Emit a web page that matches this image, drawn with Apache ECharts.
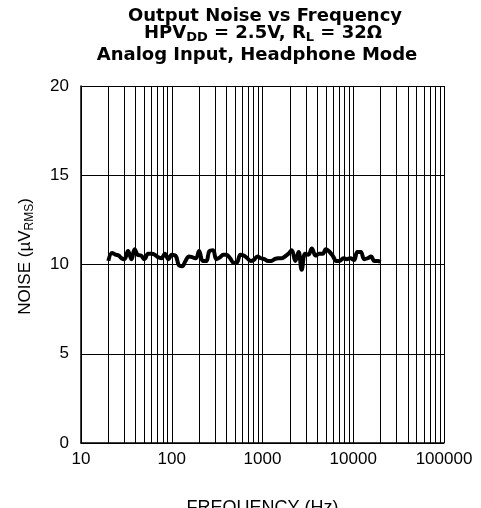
<!DOCTYPE html>
<html>
<head>
<meta charset="utf-8">
<script src="https://cdn.jsdelivr.net/npm/echarts@6/dist/echarts.min.js"></script>
<style>
  html, body { margin: 0; padding: 0; background: #fff; }
  #chart { width: 481px; height: 508px; }
</style>
</head>
<body>
<div id="chart"></div>
<script>
// frequencies (Hz) and output noise (uV RMS)
const freqs = [20, 22, 24, 26, 28, 30, 33, 36, 39, 42, 46, 50, 55, 60, 65, 71, 77, 84, 92, 100,
  110, 120, 130, 142, 155, 170, 185, 200, 220, 240, 260, 285, 310, 340, 370, 400, 440, 480, 520, 570,
  620, 680, 740, 800, 880, 960, 1050, 1150, 1250, 1360, 1480, 1620, 1770, 1930, 2100, 2300, 2500, 2700,
  2950, 3200, 3500, 3850, 4200, 4600, 5000, 5500, 6000, 6500, 7100, 7800, 8500, 9300, 10200, 11100,
  12100, 13200, 14400, 15700, 17100, 18600, 20000];
const noise = [10.2, 10.65, 10.55, 10.5, 10.35, 10.3, 10.75, 10.3, 10.85, 10.55, 10.5, 10.3, 10.6, 10.6, 10.55, 10.4, 10.35, 10.6, 10.3, 10.55,
  10.5, 9.95, 9.9, 10.2, 10.45, 10.4, 10.35, 10.75, 10.2, 10.2, 10.75, 10.8, 10.3, 10.4, 10.55, 10.55, 10.35, 10.1, 10.1, 10.55,
  10.5, 10.35, 10.2, 10.25, 10.45, 10.35, 10.3, 10.2, 10.2, 10.3, 10.35, 10.35, 10.45, 10.6, 10.8, 10.2, 10.7, 9.7,
  10.6, 10.55, 10.9, 10.5, 10.6, 10.6, 10.85, 10.7, 10.45, 10.2, 10.2, 10.35, 10.3, 10.35, 10.25, 10.7,
  10.7, 10.3, 10.35, 10.45, 10.2, 10.2, 10.15];

// vertical grid lines between decades
const minorFreqs = [20, 30, 40, 50, 60, 70, 80, 90, 200, 300, 400, 500, 600, 700, 800, 900,
  2000, 3000, 4000, 5000, 6000, 7000, 8000, 9000, 20000, 30000, 40000, 50000, 60000, 70000, 80000, 90000];

const chart = echarts.init(document.getElementById('chart'), null, { renderer: 'canvas' });

const font = 'Liberation Sans, Arial, sans-serif';
const titleFont = 'DejaVu Sans, sans-serif';
const titleStyle = { fontFamily: titleFont, fontWeight: 'bold', fontSize: 18, lineHeight: 18, color: '#000' };

chart.setOption({
  animation: false,
  backgroundColor: '#fff',
  title: [
    { text: 'Output Noise vs Frequency', left: 265, textAlign: 'center', top: 7, textStyle: titleStyle, padding: 0 },
    {
      text: '{a|HPV}{s|DD}{a| = 2.5V, R}{s|L}{a| = 32Ω}',
      left: 263, textAlign: 'center', top: 24, padding: 0,
      textStyle: {
        rich: {
          a: titleStyle,
          s: Object.assign({}, titleStyle, { fontSize: 13, padding: [10, 0, 0, 0] })
        }
      }
    },
    { text: 'Analog Input, Headphone Mode', left: 257, textAlign: 'center', top: 46, textStyle: titleStyle, padding: 0 }
  ],
  grid: { left: 81, right: 37, top: 86, bottom: 65, containLabel: false, outerBoundsMode: 'none' },
  xAxis: {
    type: 'log',
    logBase: 10,
    min: 10,
    max: 100000,
    name: 'FREQUENCY (Hz)',
    nameLocation: 'middle',
    nameGap: 56,
    nameTextStyle: { fontFamily: font, fontSize: 18, color: '#000' },
    axisLine: { show: true, lineStyle: { color: '#000', width: 1.5 } },
    axisTick: { show: false },
    axisLabel: {
      fontFamily: font, fontSize: 17, color: '#000', margin: 8,
      formatter: v => String(Math.round(v))
    },
    splitLine: { show: true, lineStyle: { color: '#000', width: 1 } }
  },
  yAxis: {
    type: 'value',
    min: 0,
    max: 20,
    interval: 5,
    name: '{a|NOISE (µV}{s|RMS}{a|)}',
    nameLocation: 'middle',
    nameGap: 47,
    nameTextStyle: {
      padding: [0, 0, 0, 16],
      rich: {
        a: { fontFamily: font, fontSize: 17, color: '#000', lineHeight: 17 },
        s: { fontFamily: font, fontSize: 12, color: '#000', lineHeight: 17, padding: [8, 0, 0, 0] }
      }
    },
    axisLine: { show: true, lineStyle: { color: '#000', width: 1.5 } },
    axisTick: { show: false },
    axisLabel: { fontFamily: font, fontSize: 17, color: '#000', margin: 12 },
    splitLine: { show: true, lineStyle: { color: '#000', width: 1 } }
  },
  series: [
    {
      type: 'line',
      data: freqs.map((f, i) => [f, noise[i]]),
      showSymbol: false,
      smooth: 0.4,
      lineStyle: { color: '#000', width: 4 },
      markLine: {
        silent: true,
        symbol: 'none',
        label: { show: false },
        lineStyle: { color: '#000', width: 1, type: 'solid' },
        data: minorFreqs.map(f => ({ xAxis: f }))
      },
      z: 3
    }
  ]
});
</script>
</body>
</html>
